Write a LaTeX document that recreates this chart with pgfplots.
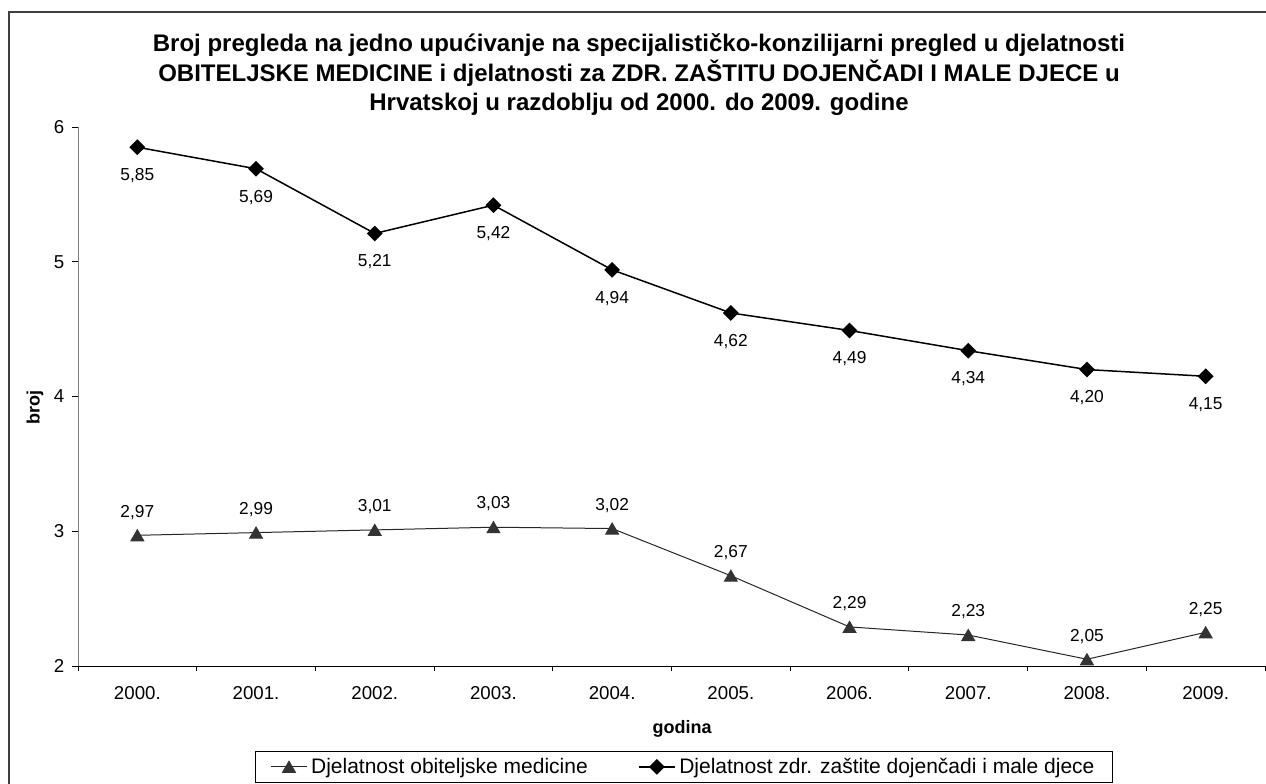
\documentclass[border=0pt]{standalone}
\usepackage{pgfplots}
\pgfplotsset{compat=1.18}
\usepackage{fontspec}
\setmainfont{Liberation Sans}
\definecolor{tri}{HTML}{333333}
\begin{document}
\begin{tikzpicture}
\begin{scope}[x=0.6pt,y=-0.6pt]
\useasboundingbox (0,0) rectangle (1266,783);
\draw[line width=0.9pt,black!75] (9,800) -- (9,12) -- (1280,12);
\node[font=\fontsize{14.4}{17.7}\selectfont\bfseries, align=center] at (639,75)
 {Broj pregleda na jedno upućivanje na specijalističko-konzilijarni pregled u djelatnosti\\
  OBITELJSKE MEDICINE i djelatnosti za ZDR. ZAŠTITU DOJENČADI I MALE DJECE u\\
  Hrvatskoj u razdoblju od 2000. do 2009. godine};
\node[font=\fontsize{10.8}{12}\selectfont\bfseries, rotate=90] at (35,407) {broj};
\node[font=\fontsize{10.8}{12}\selectfont\bfseries] at (682,729) {godina};
\end{scope}
\begin{axis}[
 at={(46.8pt,-399.6pt)}, anchor=south west,
 scale only axis, width=712.2pt, height=323.4pt,
 xmin=-0.5, xmax=9.5, ymin=2, ymax=6,
 axis x line=bottom, axis y line=left,
 axis line style={-},
 x axis line style={black, line width=0.6pt},
 y axis line style={gray, line width=0.6pt},
 xtick={0,...,9},
 xticklabels={2000.,2001.,2002.,2003.,2004.,2005.,2006.,2007.,2008.,2009.},
 minor xtick={-0.5,0.5,...,9.5},
 ytick={2,3,4,5,6},
 tick align=outside,
 major x tick style={draw=none},
 minor tick length=3pt,
 major tick length=3.6pt,
 tick style={black, line width=0.6pt},
 xticklabel style={font=\fontsize{11.2}{13}\selectfont, anchor=center, yshift=-12.6pt},
 yticklabel style={font=\fontsize{11.2}{13}\selectfont, anchor=center, xshift=-7.8pt},
 /pgf/number format/assume math mode=true,
 clip=false,
 legend style={at={(0.5105,-0.187)}, anchor=center, legend columns=2, draw=black, line width=0.6pt,
   font=\fontsize{12.6}{14}\selectfont, inner xsep=9pt, inner ysep=2pt,
   /tikz/every even column/.append style={column sep=28pt}},
 legend image code/.code={\draw[mark repeat=2,mark phase=2,#1] plot coordinates {(0pt,0pt) (11pt,0pt) (22pt,0pt)};},
 nodes near coords={\pgfmathprintnumber[fixed,fixed zerofill,precision=2,use comma]{\pgfplotspointmeta}},
 point meta=y,
]
\addplot[black!85, line width=0.6pt, mark=triangle*, mark size=4.4pt,
  mark options={fill=tri, draw=tri, solid, yshift=-1.1pt},
  every node near coord/.append style={anchor=center, yshift=15pt, font=\fontsize{10.4}{12}\selectfont, text=black}]
 coordinates {(0,2.97) (1,2.99) (2,3.01) (3,3.03) (4,3.02) (5,2.67) (6,2.29) (7,2.23) (8,2.05) (9,2.25)};
\addlegendentry{Djelatnost obiteljske medicine}
\addplot[black, line width=0.9pt, mark=square*, mark size=2.9pt,
  mark options={fill=black, solid, rotate=45},
  every node near coord/.append style={anchor=center, yshift=-17pt, font=\fontsize{10.4}{12}\selectfont, text=black}]
 coordinates {(0,5.85) (1,5.69) (2,5.21) (3,5.42) (4,4.94) (5,4.62) (6,4.49) (7,4.34) (8,4.20) (9,4.15)};
\addlegendentry{Djelatnost zdr. zaštite dojenčadi i male djece}
\end{axis}
\end{tikzpicture}
\end{document}
